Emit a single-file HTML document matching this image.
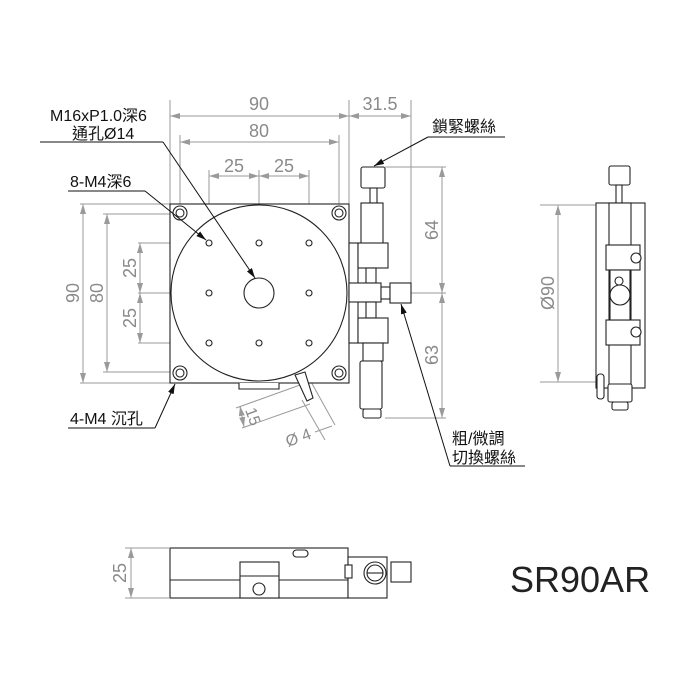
<!DOCTYPE html>
<html><head><meta charset="utf-8"><style>
html,body{margin:0;padding:0;background:#fff;width:700px;height:700px;overflow:hidden}
svg{display:block}
.d{stroke:#9a9a9a;stroke-width:1;fill:none}
.k{stroke:#222;stroke-width:1.1;fill:#fff}
.t{font-family:"Liberation Sans","Noto Sans CJK TC",sans-serif;font-size:18px;fill:#8a8a8a}
.b{font-family:"Liberation Sans","Noto Sans CJK TC",sans-serif;font-size:16px;fill:#111}
</style></head><body>
<svg width="700" height="700" viewBox="0 0 700 700" xmlns="http://www.w3.org/2000/svg">
<defs>
<marker id="a" viewBox="0 0 10 6" refX="10" refY="3" markerWidth="10" markerHeight="6" orient="auto-start-reverse" markerUnits="userSpaceOnUse"><path d="M0,0L10,3L0,6z" fill="#9a9a9a"/></marker>
<marker id="ab" viewBox="0 0 10 6" refX="10" refY="3" markerWidth="10" markerHeight="6" orient="auto" markerUnits="userSpaceOnUse"><path d="M0,0L10,3L0,6z" fill="#111"/></marker>
</defs>
<g class="d">
<line x1="170" y1="100" x2="170" y2="204"/><line x1="349" y1="100" x2="349" y2="204"/>
<line x1="411" y1="100" x2="411" y2="290"/>
<line x1="170" y1="116" x2="349" y2="116" marker-start="url(#a)" marker-end="url(#a)"/>
<line x1="349" y1="116" x2="411" y2="116" marker-start="url(#a)" marker-end="url(#a)"/>
<line x1="180" y1="135" x2="180" y2="212"/><line x1="339" y1="135" x2="339" y2="212"/>
<line x1="180" y1="142" x2="339" y2="142" marker-start="url(#a)" marker-end="url(#a)"/>
<line x1="209" y1="170" x2="209" y2="243"/><line x1="259" y1="170" x2="259" y2="293"/><line x1="309" y1="170" x2="309" y2="243"/>
<line x1="209" y1="176" x2="259" y2="176" marker-start="url(#a)" marker-end="url(#a)"/>
<line x1="259" y1="176" x2="309" y2="176" marker-start="url(#a)" marker-end="url(#a)"/>
<line x1="80" y1="204" x2="170" y2="204"/><line x1="80" y1="383" x2="170" y2="383"/>
<line x1="83" y1="204" x2="83" y2="383" marker-start="url(#a)" marker-end="url(#a)"/>
<line x1="103" y1="214" x2="180" y2="214"/><line x1="103" y1="372" x2="180" y2="372"/>
<line x1="107" y1="214" x2="107" y2="372" marker-start="url(#a)" marker-end="url(#a)"/>
<line x1="138" y1="243" x2="209" y2="243"/><line x1="138" y1="293" x2="209" y2="293"/><line x1="138" y1="343" x2="209" y2="343"/>
<line x1="140" y1="243" x2="140" y2="293" marker-start="url(#a)" marker-end="url(#a)"/>
<line x1="140" y1="293" x2="140" y2="343" marker-start="url(#a)" marker-end="url(#a)"/>
<line x1="385" y1="167" x2="446" y2="167"/><line x1="411" y1="293" x2="446" y2="293"/><line x1="385" y1="418" x2="446" y2="418"/>
<line x1="442" y1="167" x2="442" y2="293" marker-start="url(#a)" marker-end="url(#a)"/>
<line x1="442" y1="293" x2="442" y2="418" marker-start="url(#a)" marker-end="url(#a)"/>
<line x1="540" y1="205" x2="597" y2="205"/><line x1="540" y1="382" x2="597" y2="382"/>
<line x1="558" y1="205" x2="558" y2="382" marker-start="url(#a)" marker-end="url(#a)"/>
<line x1="300" y1="385" x2="236" y2="408"/><line x1="310" y1="404" x2="242" y2="428"/>
<line x1="240" y1="406" x2="244" y2="427" marker-start="url(#a)" marker-end="url(#a)"/>
<line x1="302" y1="400" x2="325" y2="440"/><line x1="310" y1="380" x2="335" y2="425"/>
<line x1="315" y1="432" x2="332" y2="426"/>
</g>
<g class="t">
<text x="259" y="110" text-anchor="middle">90</text>
<text x="380" y="110" text-anchor="middle">31.5</text>
<text x="259" y="137" text-anchor="middle">80</text>
<text x="234" y="172" text-anchor="middle">25</text>
<text x="284" y="172" text-anchor="middle">25</text>
<text transform="translate(79,293) rotate(-90)" text-anchor="middle">90</text>
<text transform="translate(103,293) rotate(-90)" text-anchor="middle">80</text>
<text transform="translate(136,268) rotate(-90)" text-anchor="middle">25</text>
<text transform="translate(136,318) rotate(-90)" text-anchor="middle">25</text>
<text transform="translate(438,230) rotate(-90)" text-anchor="middle">64</text>
<text transform="translate(438,355) rotate(-90)" text-anchor="middle">63</text>
<text transform="translate(554,293) rotate(-90)" text-anchor="middle">Ø90</text>
<text transform="translate(126,573) rotate(-90)" text-anchor="middle">25</text>
<text transform="translate(245,410) rotate(70)" font-size="16">15</text>
<text transform="translate(288,447) rotate(-20)" font-size="16">Ø 4</text>
</g>
<rect x="170" y="204" width="179" height="179" class="k"/>
<path d="M239 383 v6 h40 v-6" class="k"/>
<circle cx="259" cy="293" r="88" class="k" stroke-width="2"/>
<circle cx="259" cy="293" r="15" class="k" stroke-width="2"/>
<g class="k">
<circle cx="180" cy="213" r="7"/><circle cx="180" cy="213" r="4"/>
<circle cx="339" cy="213" r="7"/><circle cx="339" cy="213" r="4"/>
<circle cx="180" cy="373" r="7"/><circle cx="180" cy="373" r="4"/>
<circle cx="339" cy="373" r="7"/><circle cx="339" cy="373" r="4"/>
<circle cx="209" cy="243" r="3"/><circle cx="259" cy="243" r="3"/><circle cx="309" cy="243" r="3"/>
<circle cx="209" cy="293" r="3"/><circle cx="309" cy="293" r="3"/>
<circle cx="209" cy="343" r="3"/><circle cx="259" cy="343" r="3"/><circle cx="309" cy="343" r="3"/>
<path d="M295 375 l10 -3 l8 26 l-6 3z"/>
<rect x="349" y="243" width="9" height="100"/>
<rect x="361" y="167" width="24" height="21" rx="2"/>
<rect x="370" y="188" width="7" height="15"/>
<rect x="361" y="203" width="22" height="41"/>
<rect x="358" y="243" width="30" height="25"/>
<rect x="366" y="268" width="10" height="15"/>
<rect x="349" y="283" width="32" height="19"/>
<rect x="381" y="287" width="9" height="12"/>
<rect x="390" y="283" width="21" height="20"/>
<rect x="366" y="302" width="10" height="16"/>
<rect x="358" y="318" width="30" height="25"/>
<rect x="363" y="343" width="20" height="18"/>
<rect x="360" y="361" width="22" height="48" rx="2"/>
<rect x="363" y="409" width="18" height="9" rx="2"/>
<rect x="596" y="203" width="49" height="185"/>
<rect x="609" y="166" width="21" height="19" rx="2"/>
<rect x="616" y="185" width="6" height="18"/>
<rect x="609" y="203" width="22" height="185"/>
<rect x="606" y="245" width="34" height="25"/>
<rect x="606" y="320" width="34" height="25"/>
<rect x="610" y="270" width="20" height="50"/>
<circle cx="620" cy="295" r="10"/>
<circle cx="619" cy="281" r="4"/>
<circle cx="636" cy="258" r="5"/><circle cx="636" cy="332" r="5"/>
<rect x="608" y="384" width="24" height="18" rx="2"/>
<rect x="612" y="402" width="16" height="8" rx="2"/>
<rect x="597" y="374" width="7" height="25" rx="3"/>
<rect x="170" y="548" width="178" height="50"/>
<line x1="170" y1="580" x2="348" y2="580"/>
<rect x="240" y="562" width="39" height="36"/>
<line x1="240" y1="576" x2="279" y2="576"/>
<circle cx="259" cy="589" r="6"/>
<rect x="293" y="550" width="15" height="7" rx="3.5"/>
<rect x="348" y="557" width="39" height="41"/>
<rect x="345" y="565" width="7" height="13"/>
<circle cx="375" cy="573" r="11"/><circle cx="375" cy="573" r="8"/>
<line x1="367" y1="573" x2="383" y2="573"/>
<rect x="391" y="562" width="20" height="20"/>
</g>
<g class="d">
<line x1="125" y1="548" x2="170" y2="548"/><line x1="125" y1="598" x2="170" y2="598"/>
<line x1="131" y1="548" x2="131" y2="598" marker-start="url(#a)" marker-end="url(#a)"/>
</g>
<g stroke="#111" stroke-width="1" fill="none">
<line x1="40" y1="142" x2="163" y2="142"/><line x1="163" y1="142" x2="255" y2="278" marker-end="url(#ab)"/>
<line x1="68" y1="191" x2="145" y2="191"/><line x1="145" y1="191" x2="206" y2="240" marker-end="url(#ab)"/>
<line x1="428" y1="137" x2="505" y2="137"/><line x1="428" y1="137" x2="374" y2="166" marker-end="url(#ab)"/>
<line x1="68" y1="428" x2="155" y2="428"/><line x1="155" y1="428" x2="175" y2="384" marker-end="url(#ab)"/>
<line x1="450" y1="466" x2="525" y2="466"/><line x1="450" y1="466" x2="401" y2="304" marker-end="url(#ab)"/>
</g>
<g class="b">
<text x="50" y="121">M16xP1.0深6</text>
<text x="72" y="139">通孔Ø14</text>
<text x="70" y="187">8-M4深6</text>
<text x="432" y="132">鎖緊螺絲</text>
<text x="70" y="424">4-M4 沉孔</text>
<text x="452" y="444">粗/微調</text>
<text x="452" y="463">切換螺絲</text>
</g>
<text x="510" y="592" font-family="Liberation Sans,sans-serif" font-size="36" fill="#222">SR90AR</text>
</svg>
</body></html>
